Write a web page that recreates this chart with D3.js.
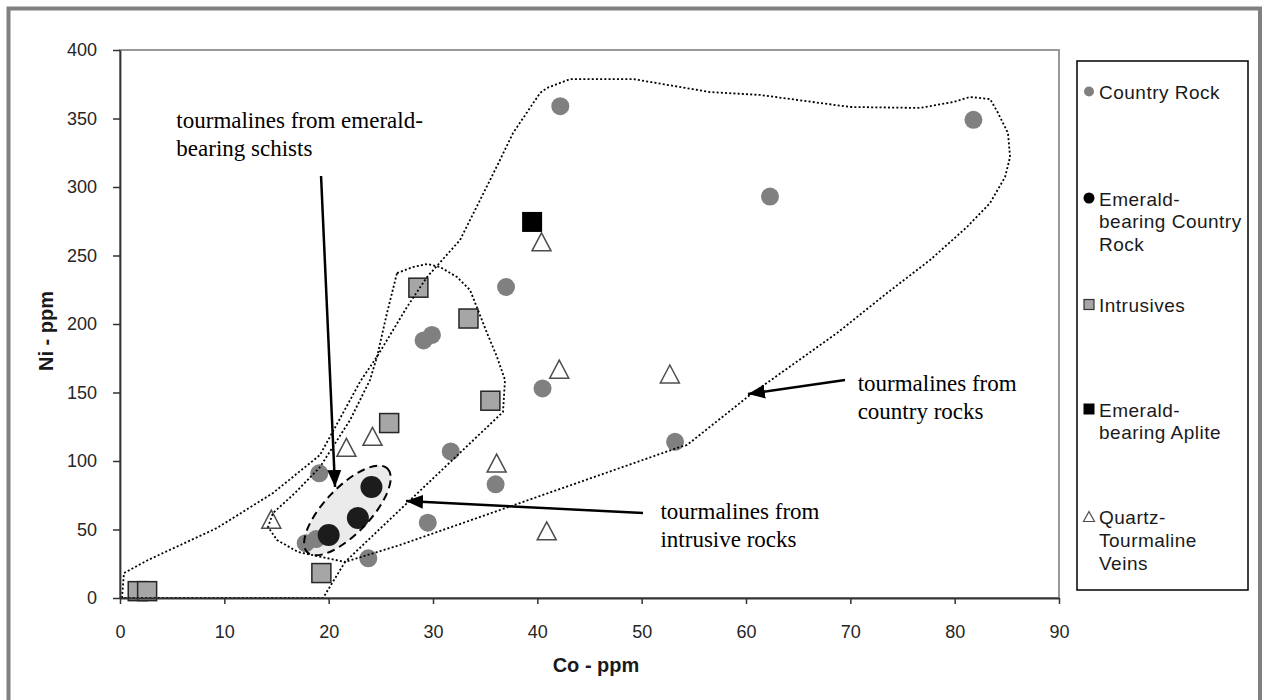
<!DOCTYPE html>
<html>
<head>
<meta charset="utf-8">
<script src="https://cdn.jsdelivr.net/npm/d3@7"></script>
<style>
  body { margin: 0; background: #fff; }
  svg { display: block; }
  .tick text { font-family: "Liberation Sans", Arial, sans-serif; font-size: 18px; fill: #262626; }
</style>
</head>
<body>
<svg id="chart" width="1265" height="700"></svg>
<script>
// values, [Co ppm, Ni ppm]
var countryRock = [[42.2, 359], [62.3, 293], [81.8, 349], [37.0, 227], [29.1, 188], [29.9, 192],
                   [40.5, 153], [53.2, 114], [31.7, 107], [36.0, 83], [29.5, 55], [19.1, 91],
                   [17.8, 40], [18.8, 43], [23.8, 29]];
var emeraldCountryRock = [[20.0, 46], [22.8, 58.4], [24.1, 81]];
var intrusives = [[28.6, 226.5], [33.4, 204], [35.5, 144], [25.8, 127.7], [19.3, 18.2], [1.7, 5], [2.6, 5]];
var emeraldAplite = [[39.5, 274.5]];
var quartzVeins = [[40.4, 260], [42.1, 167], [52.7, 163.5], [36.1, 98.5], [40.9, 49],
                   [21.7, 110], [24.2, 118], [14.5, 57.5]];

var xTicks = [0, 10, 20, 30, 40, 50, 60, 70, 80, 90];
var yTicks = [0, 50, 100, 150, 200, 250, 300, 350, 400];

var legendNames = [["Country Rock"], ["Emerald-", "bearing Country", "Rock"], ["Intrusives"],
                   ["Emerald-", "bearing Aplite"], ["Quartz-", "Tourmaline", "Veins"]];

// hand drawn envelopes (in data units)
var countryEnvelope = [[0.19, 0], [0.38, 18.2], [2.68, 27.7], [9.3, 51.1], [14.66, 76.6], [19.17, 104.4],
  [23.0, 157.7], [24.73, 177.4], [27.51, 212.4], [29.43, 234.3], [32.59, 261.3], [34.51, 290.5],
  [36.42, 319.7], [37.67, 339.4], [40.26, 368.6], [40.93, 372.3], [43.13, 378.8], [49.17, 378.8],
  [56.55, 369.3], [61.34, 367.2], [69.97, 358.4], [76.68, 357.7], [79.84, 362.0], [81.47, 365.7],
  [83.39, 364.2], [84.16, 354.0], [85.11, 339.4], [85.31, 321.9], [84.83, 307.3], [83.39, 288.3],
  [81.18, 270.8], [77.64, 246.7], [73.52, 222.6], [68.72, 193.4], [60.39, 148.2], [54.35, 111.7],
  [53.39, 109.5], [26.84, 38.7], [21.57, 26.3], [19.46, 0]];
var intrusiveEnvelope = [[26.55, 237.2], [28.08, 241.6], [29.43, 243.8], [30.67, 241.6], [32.3, 234.3],
  [33.55, 224.8], [34.31, 210.2], [35.18, 193.4], [36.14, 175.9], [36.9, 159.1], [36.71, 135.8],
  [21.57, 26.3], [17.06, 33.6], [15.05, 42.3], [14.19, 51.8], [14.66, 62.0], [16.77, 76.6],
  [19.17, 95.6], [22.05, 129.9], [23.96, 159.1], [24.63, 175.9], [25.59, 208.0]];

var notes = [
  {lines: ["tourmalines from emerald-", "bearing schists"], at: [5.4, 343], from: [19.27, 308], to: [20.61, 81]},
  {lines: ["tourmalines from", "intrusive rocks"], at: [51.8, 57.7], from: [50.13, 62], to: [27.41, 70.8]},
  {lines: ["tourmalines from", "country rocks"], at: [70.7, 151.1], from: [69.49, 159.1], to: [60.19, 148.9]}
];

var svg = d3.select("#chart");
var x = d3.scaleLinear().domain([0, 90]).range([120, 1059]);
var y = d3.scaleLinear().domain([0, 400]).range([598, 50]);

// outer frame
svg.append("rect")
  .attr("x", 8.5).attr("y", 8.5)
  .attr("width", 1251.5).attr("height", 720)
  .attr("fill", "#fff").attr("stroke", "#808080").attr("stroke-width", 4);

// plot area border
svg.append("rect")
  .attr("x", x(0)).attr("y", y(400))
  .attr("width", x(90) - x(0)).attr("height", y(0) - y(400))
  .attr("fill", "none").attr("stroke", "#999").attr("stroke-width", 2);

var defs = svg.append("defs");
defs.append("marker")
  .attr("id", "head")
  .attr("markerUnits", "userSpaceOnUse")
  .attr("markerWidth", 18).attr("markerHeight", 16)
  .attr("refX", 17).attr("refY", 8)
  .attr("orient", "auto")
  .append("path")
  .attr("d", "M0,1 L17,8 L0,15 Z")
  .attr("fill", "#000");

// ellipse round the emerald-bearing schists
var ellPos = "translate(" + x(21.8) + "," + y(63.9) + ") rotate(-46.4)";
svg.append("ellipse")
  .attr("transform", ellPos)
  .attr("rx", 58).attr("ry", 23).attr("fill", "#ebebeb");

// points
var pts = svg.append("g");
pts.selectAll(".cr").data(countryRock).enter().append("circle")
  .attr("cx", function(d) { return x(d[0]); })
  .attr("cy", function(d) { return y(d[1]); })
  .attr("r", 9).attr("fill", "#808080");

pts.selectAll(".intr").data(intrusives).enter().append("rect")
  .attr("x", function(d) { return x(d[0]) - 9.5; })
  .attr("y", function(d) { return y(d[1]) - 9.5; })
  .attr("width", 19).attr("height", 19)
  .attr("fill", "#a6a6a6").attr("stroke", "#262626").attr("stroke-width", 1.5);

pts.selectAll(".apl").data(emeraldAplite).enter().append("rect")
  .attr("x", function(d) { return x(d[0]) - 10; })
  .attr("y", function(d) { return y(d[1]) - 10; })
  .attr("width", 20).attr("height", 20)
  .attr("fill", "#000");

function tri(w, h) {
  return "M0," + (-h / 2) + " L" + (w / 2) + "," + (h / 2) + " L" + (-w / 2) + "," + (h / 2) + " Z";
}
pts.selectAll(".qv").data(quartzVeins).enter().append("path")
  .attr("transform", function(d) { return "translate(" + x(d[0]) + "," + y(d[1]) + ")"; })
  .attr("d", tri(19, 18))
  .attr("fill", "#fff").attr("stroke", "#4d4d4d").attr("stroke-width", 1.5);

pts.selectAll(".ecr").data(emeraldCountryRock).enter().append("circle")
  .attr("cx", function(d) { return x(d[0]); })
  .attr("cy", function(d) { return y(d[1]); })
  .attr("r", 11).attr("fill", "#1c1c1c");

svg.append("ellipse")
  .attr("transform", ellPos)
  .attr("rx", 58).attr("ry", 23)
  .attr("fill", "none").attr("stroke", "#000").attr("stroke-width", 2)
  .attr("stroke-dasharray", "8,5");

// envelopes
var line = d3.line()
  .x(function(d) { return x(d[0]); })
  .y(function(d) { return y(d[1]); });

[countryEnvelope, intrusiveEnvelope].forEach(function(env) {
  svg.append("path")
    .attr("d", line(env) + "Z")
    .attr("fill", "none").attr("stroke", "#000")
    .attr("stroke-width", 1.8).attr("stroke-dasharray", "2,2.2");
});

// axes
var xAxis = svg.append("g")
  .attr("transform", "translate(0," + y(0) + ")")
  .call(d3.axisBottom(x).tickValues(xTicks).tickSize(6).tickSizeOuter(0).tickPadding(21));
var yAxis = svg.append("g")
  .attr("transform", "translate(" + x(0) + ",0)")
  .call(d3.axisLeft(y).tickValues(yTicks).tickSize(7).tickSizeOuter(0).tickPadding(16));
[xAxis, yAxis].forEach(function(a) {
  a.select(".domain").attr("stroke", "#333").attr("stroke-width", 1.8);
  a.selectAll(".tick line").attr("stroke", "#333").attr("stroke-width", 1.5);
});

// arrows and notes
notes.forEach(function(n) {
  svg.append("line")
    .attr("x1", x(n.from[0])).attr("y1", y(n.from[1]))
    .attr("x2", x(n.to[0])).attr("y2", y(n.to[1]))
    .attr("stroke", "#000").attr("stroke-width", 2.5)
    .attr("marker-end", "url(#head)");
  var t = svg.append("text")
    .attr("x", x(n.at[0])).attr("y", y(n.at[1]))
    .attr("font-family", "'Liberation Serif', 'Times New Roman', serif")
    .attr("font-size", 23).attr("fill", "#000");
  n.lines.forEach(function(l, i) {
    t.append("tspan").attr("x", x(n.at[0])).attr("dy", i ? 27.8 : 0).text(l);
  });
});

// axis titles
svg.append("text")
  .attr("x", 596).attr("y", 672)
  .attr("text-anchor", "middle")
  .attr("font-family", "'Liberation Sans', Arial, sans-serif")
  .attr("font-size", 20).attr("font-weight", "bold").attr("fill", "#1a1a1a")
  .text("Co - ppm");
svg.append("text")
  .attr("transform", "translate(53,331) rotate(-90)")
  .attr("text-anchor", "middle")
  .attr("font-family", "'Liberation Sans', Arial, sans-serif")
  .attr("font-size", 20).attr("font-weight", "bold").attr("fill", "#1a1a1a")
  .text("Ni - ppm");

// legend
var legend = svg.append("g");
legend.append("rect")
  .attr("x", 1077).attr("y", 61).attr("width", 171).attr("height", 529)
  .attr("fill", "#fff").attr("stroke", "#000").attr("stroke-width", 1.5);

var firstBase = [99, 205.5, 312, 416.5, 524];
var item = legend.selectAll(".item").data(legendNames).enter().append("g")
  .attr("transform", function(d, i) { return "translate(1089," + firstBase[i] + ")"; });

item.each(function(d, i) {
  var g = d3.select(this);
  if (i === 0) g.append("circle").attr("cy", -7.5).attr("r", 5).attr("fill", "#808080");
  if (i === 1) g.append("circle").attr("cy", -7.5).attr("r", 5.5).attr("fill", "#000");
  if (i === 2) g.append("rect").attr("x", -5).attr("y", -12.5).attr("width", 10).attr("height", 10)
    .attr("fill", "#a6a6a6").attr("stroke", "#333").attr("stroke-width", 1.2);
  if (i === 3) g.append("rect").attr("x", -5.5).attr("y", -13).attr("width", 11).attr("height", 11).attr("fill", "#000");
  if (i === 4) g.append("path").attr("transform", "translate(0,-7.5)").attr("d", tri(11, 10))
    .attr("fill", "#fff").attr("stroke", "#4d4d4d").attr("stroke-width", 1.2);
  var t = g.append("text")
    .attr("font-family", "'Liberation Sans', Arial, sans-serif")
    .attr("font-size", 19).attr("letter-spacing", 0.5).attr("fill", "#1a1a1a");
  d.forEach(function(l, j) {
    t.append("tspan").attr("x", 10).attr("y", j * 22.8).text(l);
  });
});
</script>
</body>
</html>
